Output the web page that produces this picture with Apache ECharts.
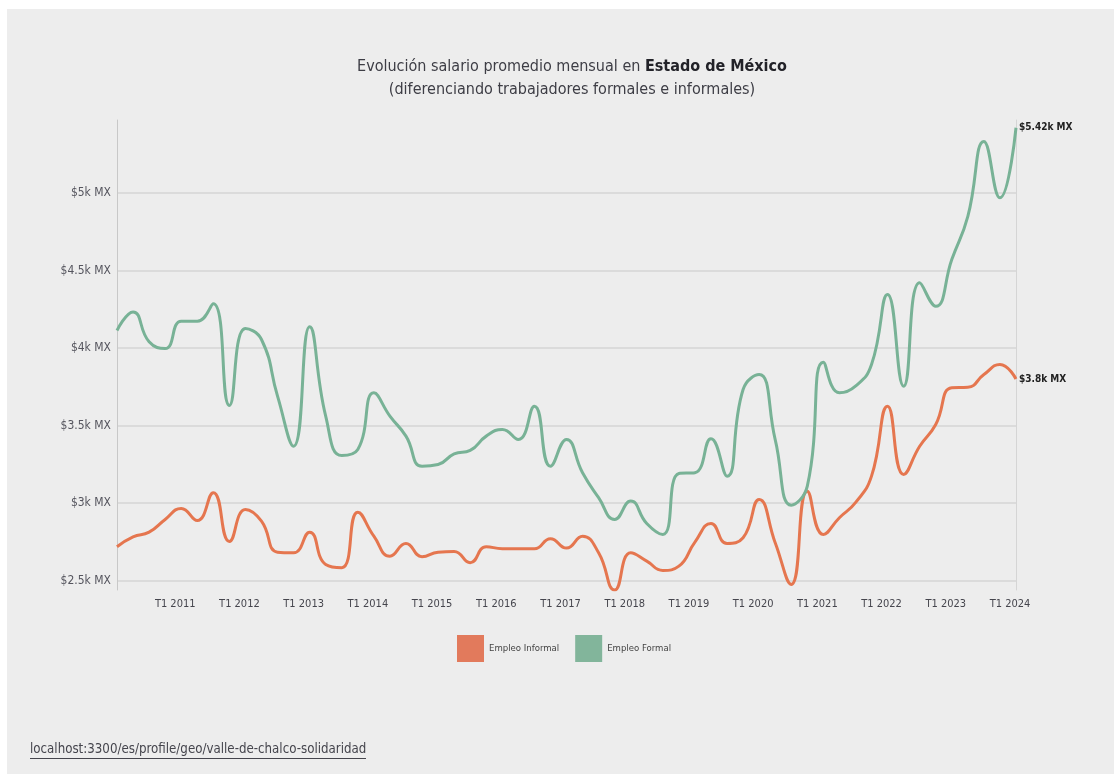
<!DOCTYPE html>
<html>
<head>
<meta charset="utf-8">
<title>Evolución salario promedio mensual</title>
<script src="https://cdn.jsdelivr.net/npm/echarts@6/dist/echarts.min.js"></script>
<style>
  html, body { margin: 0; padding: 0; background: #ffffff; }
  #chart {
    position: absolute;
    left: 7px;
    top: 9px;
    width: 1107px;
    height: 765px;
    background: #ededed;
  }
</style>
</head>
<body>
<div id="chart"></div>
<script>
const FONT = "'Liberation Sans Narrow', 'DejaVu Sans Condensed', 'Roboto Condensed', sans-serif"

// años del eje x (trimestres T1..T4)
const years = [2010, 2011, 2012, 2013, 2014, 2015, 2016, 2017, 2018, 2019, 2020, 2021, 2022, 2023, 2024]
const quarters = ['T1', 'T2', 'T3', 'T4']

// salario promedio mensual (MXN), T1 2010 -> T1 2024
const empleoInformal = [
  2719, 2783, 2813, 2895, 2966, 2888, 3067, 2753, 2959, 2884,
  2684, 2680, 2813, 2605, 2584, 2942, 2787, 2658, 2740, 2655,
  2684, 2689, 2616, 2719, 2706, 2706, 2706, 2771, 2710, 2787,
  2680, 2440, 2680, 2626, 2566, 2594, 2749, 2869, 2740, 2777,
  3024, 2745, 2476, 3077, 2798, 2906, 3003, 3174, 3625, 3185,
  3367, 3507, 3744, 3747, 3829, 3894, 3800
]
const empleoFormal = [
  4113, 4233, 4040, 3997, 4173, 4173, 4285, 3630, 4126, 4055,
  3690, 3367, 4137, 3561, 3307, 3346, 3711, 3561, 3432, 3238,
  3249, 3318, 3340, 3432, 3475, 3410, 3625, 3238, 3410, 3196,
  3035, 2895, 3013, 2869, 2798, 3191, 3196, 3415, 3174, 3733,
  3829, 3410, 2987, 3110, 3909, 3711, 3754, 3894, 4345, 3754,
  4420, 4269, 4570, 4849, 5332, 4968, 5420
]

const categories = []
years.forEach((y) => {
  quarters.forEach((q) => {
    if (categories.length < empleoFormal.length) categories.push(q + ' ' + y)
  })
})

const fmtK = (v) => '$' + parseFloat((v / 1000).toFixed(2)) + 'k MX'

const chart = echarts.init(document.getElementById('chart'))

const endLabel = {
  show: true,
  distance: 3,
  formatter: (p) => fmtK(p.value),
  fontFamily: FONT,
  fontSize: 10,
  fontWeight: 'bold',
  color: '#222',
}

const option = {
  backgroundColor: '#ededed',
  animation: false,
  textStyle: { fontFamily: FONT },
  title: {
    text: '{a|Evolución salario promedio mensual en }{b|Estado de México}\n{a|(diferenciando trabajadores formales e informales)}',
    left: 560,
    top: 41,
    textAlign: 'center',
    textStyle: {
      fontWeight: 'normal',
      rich: {
        a: { fontFamily: FONT, fontSize: 16, fontWeight: 'normal', color: '#3d3d45', lineHeight: 23 },
        b: { fontFamily: FONT, fontSize: 16, fontWeight: 'bold', color: '#222228', lineHeight: 23 },
      },
    },
  },
  grid: {
    left: 110,
    right: 98,
    top: 111,
    bottom: 184,
  },
  legend: {
    left: 445,
    top: 621,
    icon: 'rect',
    itemWidth: 27,
    itemHeight: 27,
    itemGap: 16,
    textStyle: { fontFamily: FONT, fontSize: 9.5, color: '#444' },
    data: ['Empleo Informal', 'Empleo Formal'],
  },
  xAxis: {
    type: 'category',
    data: categories,
    boundaryGap: false,
    axisLine: { show: false },
    axisTick: { show: false },
    axisLabel: {
      interval: (index) => index % 4 === 0 && index > 0,
      margin: 9,
      padding: [0, 12, 0, 0],
      fontFamily: FONT,
      fontSize: 11,
      color: '#45454d',
    },
    splitLine: { show: false },
  },
  yAxis: [
    {
      type: 'value',
      min: 2440,
      max: 5470,
      axisLine: { show: true, lineStyle: { color: '#c8c8c8', width: 1 } },
      axisTick: { show: false },
      axisLabel: {
        showMinLabel: false,
        showMaxLabel: false,
        margin: 6,
        fontFamily: FONT,
        fontSize: 12,
        color: '#55555e',
        formatter: fmtK,
      },
      splitLine: {
        show: true,
        showMinLine: false,
        showMaxLine: false,
        lineStyle: { color: '#d5d5d5', width: 1.5 },
      },
    },
    {
      type: 'value',
      position: 'right',
      min: 2440,
      max: 5470,
      axisLine: { show: true, lineStyle: { color: '#d5d5d5', width: 1 } },
      axisTick: { show: false },
      axisLabel: { show: false },
      splitLine: { show: false },
    },
  ],
  series: [
    {
      name: 'Empleo Informal',
      type: 'line',
      data: empleoInformal,
      smooth: 0.5,
      showSymbol: false,
      symbol: 'none',
      color: '#e27a5c',
      lineStyle: { width: 3, color: '#e5764f' },
      endLabel: endLabel,
    },
    {
      name: 'Empleo Formal',
      type: 'line',
      data: empleoFormal,
      smooth: 0.5,
      showSymbol: false,
      symbol: 'none',
      color: '#82b59b',
      lineStyle: { width: 3, color: '#78b296' },
      endLabel: endLabel,
    },
  ],
  graphic: [
    {
      type: 'text',
      left: 23,
      top: 734,
      style: {
        text: 'localhost:3300/es/profile/geo/valle-de-chalco-solidaridad',
        font: '13.2px ' + FONT,
        fill: '#45454d',
      },
    },
    {
      type: 'rect',
      left: 23,
      top: 749,
      shape: { width: 336, height: 1 },
      style: { fill: '#45454d' },
    },
  ],
}

chart.setOption(option)

window.addEventListener('resize', () => {
  chart.resize()
})
</script>
</body>
</html>
